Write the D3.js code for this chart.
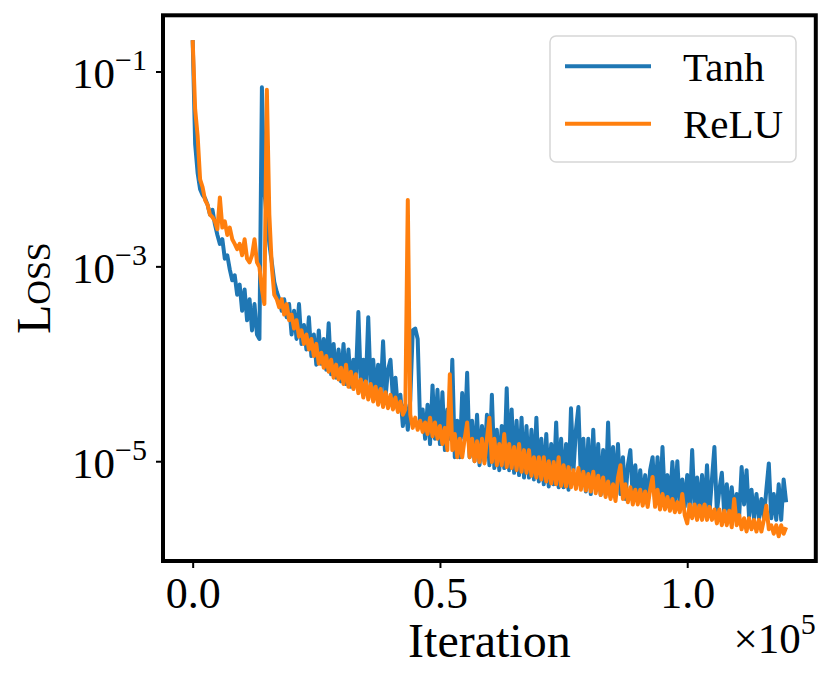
<!DOCTYPE html>
<html>
<head>
<meta charset="utf-8">
<script src="https://cdn.jsdelivr.net/npm/d3@7"></script>
<style>
  html, body { margin: 0; padding: 0; background: #ffffff; }
  svg { display: block; }
  text { font-family: "Liberation Serif", "DejaVu Serif", serif; fill: #000; }
</style>
</head>
<body>
<svg id="chart" width="831" height="683"></svg>
<script>
// ---- data ----
const seriesNames = ["Tanh", "ReLU"];
const seriesColors = ["#1f77b4", "#ff7f0e"];
const iterationStep = 500;
const iterationMax = 120000;

const tanhLoss = [
  2.1e-1, 1.8e-2, 9.1e-3, 6.2e-3, 5.4e-3, 5.0e-3, 4.3e-3, 3.4e-3, 3.8e-3, 2.7e-3,
  2.1e-3, 1.7e-3, 1.9e-3, 1.2e-3, 1.3e-3, 9.3e-4, 7.2e-4, 8.1e-4, 5.1e-4, 6.5e-4,
  3.5e-4, 5.8e-4, 2.8e-4, 4.6e-4, 2.2e-4, 4.1e-4, 2.0e-4, 1.8e-4, 6.9e-2, 6.0e-3,
  3.0e-3, 1.7e-3, 1.1e-3, 6.9e-4, 5.5e-4, 4.6e-4, 3.5e-4, 4.6e-4, 3.0e-4, 4.1e-4,
  2.0e-4, 3.5e-4, 1.8e-4, 4.1e-4, 1.6e-4, 2.5e-4, 1.4e-4, 3.0e-4, 1.2e-4, 2.0e-4,
  9.8e-5, 2.2e-4, 1.0e-4, 1.8e-4, 8.7e-5, 2.6e-4, 7.8e-5, 1.6e-4, 7.2e-5, 1.4e-4,
  6.6e-5, 1.6e-4, 6.2e-5, 1.4e-4, 5.8e-5, 1.1e-4, 6.9e-5, 3.4e-4, 6.2e-5, 1.1e-4,
  5.8e-5, 3.0e-4, 5.5e-5, 1.1e-4, 5.0e-5, 9.8e-5, 4.8e-5, 1.7e-4, 4.5e-5, 8.7e-5,
  1.1e-4, 4.3e-5, 7.2e-5, 3.4e-5, 4.8e-5, 2.3e-5, 3.8e-5, 2.1e-5, 4.3e-5, 2.2e-4,
  2.3e-4, 1.8e-4, 2.3e-5, 3.4e-5, 1.7e-5, 3.8e-5, 1.5e-5, 6.0e-5, 1.7e-5, 5.4e-5,
  1.5e-5, 5.1e-5, 1.3e-5, 3.4e-5, 1.7e-5, 1.1e-4, 1.1e-5, 2.6e-5, 1.1e-5, 5.0e-5,
  1.7e-5, 8.1e-5, 1.1e-5, 2.6e-5, 1.0e-5, 3.0e-5, 9.1e-6, 2.3e-5, 1.0e-5, 3.0e-5,
  9.1e-6, 4.8e-5, 8.5e-6, 2.1e-5, 8.1e-6, 2.3e-5, 8.5e-6, 5.6e-5, 8.1e-6, 3.4e-5,
  7.6e-6, 2.6e-5, 7.2e-6, 2.8e-5, 6.8e-6, 2.3e-5, 6.8e-6, 2.1e-5, 6.5e-6, 2.8e-5,
  6.2e-6, 1.7e-5, 5.8e-6, 1.9e-5, 5.5e-6, 1.5e-5, 5.8e-6, 2.5e-5, 5.4e-6, 1.7e-5,
  5.4e-6, 1.5e-5, 5.1e-6, 3.5e-5, 8.1e-6, 2.1e-5, 3.6e-5, 6.5e-6, 1.7e-5, 4.9e-6,
  1.7e-5, 4.6e-6, 2.1e-5, 5.1e-6, 1.5e-5, 4.5e-6, 1.3e-5, 4.6e-6, 2.5e-5, 4.3e-6,
  1.4e-5, 5.1e-6, 1.5e-5, 4.6e-6, 1.1e-5, 4.1e-6, 9.1e-6, 1.3e-5, 4.1e-6, 9.1e-6,
  4.1e-6, 8.1e-6, 3.8e-6, 7.2e-6, 3.6e-6, 8.1e-6, 1.1e-5, 3.8e-6, 1.1e-5, 3.6e-6,
  1.4e-5, 3.6e-6, 7.2e-6, 3.5e-6, 9.8e-6, 3.6e-6, 1.0e-5, 3.4e-6, 6.5e-6, 3.4e-6,
  7.2e-6, 3.2e-6, 1.3e-5, 3.2e-6, 6.8e-6, 3.1e-6, 7.2e-6, 3.1e-6, 9.1e-6, 3.0e-6,
  6.5e-6, 1.4e-5, 3.0e-6, 5.1e-6, 7.6e-6, 2.8e-6, 5.8e-6, 2.8e-6, 5.4e-6, 2.8e-6,
  4.6e-6, 2.7e-6, 8.7e-6, 3.6e-6, 8.1e-6, 2.7e-6, 5.1e-6, 2.6e-6, 4.6e-6, 2.6e-6,
  4.1e-6, 2.6e-6, 5.1e-6, 9.5e-6, 2.6e-6, 4.6e-6, 2.5e-6, 5.8e-6, 2.5e-6, 6.5e-6,
  3.8e-6
];

const reluLoss = [
  2.1e-1, 4.1e-2, 2.2e-2, 7.8e-3, 6.5e-3, 4.8e-3, 4.3e-3, 3.4e-3, 3.2e-3, 2.9e-3,
  2.4e-3, 5.1e-3, 2.5e-3, 2.9e-3, 2.1e-3, 2.5e-3, 1.9e-3, 1.7e-3, 1.5e-3, 1.7e-3,
  1.3e-3, 1.9e-3, 1.2e-3, 1.1e-3, 1.3e-3, 1.9e-3, 1.1e-3, 9.8e-4, 5.8e-4, 4.1e-4,
  6.5e-2, 3.4e-3, 1.0e-3, 5.1e-4, 4.6e-4, 3.8e-4, 4.6e-4, 3.2e-4, 4.1e-4, 2.8e-4,
  3.2e-4, 2.3e-4, 2.8e-4, 1.9e-4, 2.2e-4, 1.6e-4, 2.0e-4, 1.4e-4, 1.8e-4, 1.2e-4,
  1.6e-4, 1.0e-4, 1.3e-4, 9.1e-5, 1.2e-4, 8.3e-5, 1.1e-4, 7.2e-5, 9.8e-5, 6.9e-5,
  9.1e-5, 6.2e-5, 9.8e-5, 5.8e-5, 8.3e-5, 5.5e-5, 7.8e-5, 5.0e-5, 6.9e-5, 4.5e-5,
  6.6e-5, 4.3e-5, 6.2e-5, 4.1e-5, 5.8e-5, 3.8e-5, 5.5e-5, 3.6e-5, 5.1e-5, 3.5e-5,
  4.8e-5, 3.4e-5, 4.5e-5, 3.2e-5, 4.1e-5, 3.0e-5, 3.4e-5, 4.8e-3, 3.0e-5, 2.2e-5,
  2.8e-5, 2.1e-5, 2.6e-5, 2.0e-5, 2.5e-5, 1.9e-5, 2.8e-5, 1.8e-5, 2.5e-5, 1.7e-5,
  2.3e-5, 1.5e-5, 2.2e-5, 1.3e-5, 7.8e-5, 1.3e-5, 1.9e-5, 1.1e-5, 1.7e-5, 1.1e-5,
  1.7e-5, 2.5e-5, 1.1e-5, 1.7e-5, 1.0e-5, 1.6e-5, 9.8e-6, 1.7e-5, 9.5e-6, 1.7e-5,
  2.8e-5, 9.8e-6, 1.7e-5, 9.1e-6, 1.5e-5, 9.1e-6, 1.9e-5, 8.7e-6, 1.5e-5, 8.5e-6,
  1.4e-5, 8.1e-6, 1.5e-5, 7.8e-6, 1.3e-5, 7.6e-6, 1.3e-5, 7.1e-6, 1.1e-5, 6.8e-6,
  1.1e-5, 6.5e-6, 1.1e-5, 6.2e-6, 1.0e-5, 5.9e-6, 9.8e-6, 5.8e-6, 1.1e-5, 5.6e-6,
  9.1e-6, 5.5e-6, 8.7e-6, 5.4e-6, 8.1e-6, 5.2e-6, 8.5e-6, 5.1e-6, 7.8e-6, 5.0e-6,
  7.4e-6, 4.9e-6, 7.8e-6, 4.7e-6, 7.1e-6, 4.5e-6, 6.8e-6, 4.3e-6, 6.2e-6, 4.1e-6,
  5.8e-6, 3.9e-6, 6.8e-6, 9.1e-6, 4.1e-6, 5.8e-6, 3.8e-6, 5.4e-6, 3.6e-6, 5.1e-6,
  3.6e-6, 5.1e-6, 3.5e-6, 4.9e-6, 3.4e-6, 5.1e-6, 6.9e-6, 3.4e-6, 5.1e-6, 3.2e-6,
  4.6e-6, 3.2e-6, 4.3e-6, 3.1e-6, 4.1e-6, 3.0e-6, 3.8e-6, 3.0e-6, 4.6e-6, 2.8e-6,
  2.3e-6, 3.6e-6, 2.6e-6, 3.6e-6, 2.5e-6, 3.5e-6, 2.5e-6, 3.6e-6, 2.5e-6, 3.4e-6,
  2.5e-6, 3.2e-6, 2.3e-6, 3.2e-6, 2.2e-6, 3.1e-6, 2.2e-6, 3.1e-6, 2.1e-6, 4.1e-6,
  2.2e-6, 2.8e-6, 2.0e-6, 2.6e-6, 1.9e-6, 2.6e-6, 2.0e-6, 2.5e-6, 1.9e-6, 2.5e-6,
  1.9e-6, 2.5e-6, 3.5e-6, 2.0e-6, 2.2e-6, 1.8e-6, 2.2e-6, 1.7e-6, 2.2e-6, 1.8e-6,
  2.1e-6
];

const xTickValues = [0, 50000, 100000];
const xTickLabels = ["0.0", "0.5", "1.0"];
const yTickExponents = [-1, -3, -5];
const xLabel = "Iteration";
const yLabel = "Loss";
const xOffsetBase = "×10";
const xOffsetExp = "5";

// ---- layout ----
const W = 831, H = 683;
const axL = 163, axR = 815.8, axT = 15.3, axB = 561;
const svg = d3.select("#chart");
svg.append("rect").attr("width", W).attr("height", H).attr("fill", "#fff");

const iterations = d3.range(0, iterationMax + 1, iterationStep);
const series = [tanhLoss, reluLoss];

// x scale with matplotlib-like 5% margins
const xPad = 0.05 * iterationMax;
const x = d3.scaleLinear().domain([-xPad, iterationMax + xPad]).range([axL, axR]);

const allVals = tanhLoss.concat(reluLoss);
const lmin = Math.log10(d3.min(allVals)), lmax = Math.log10(d3.max(allVals));
const lpad = 0.05 * (lmax - lmin);
const y = d3.scaleLog().domain([Math.pow(10, lmin - lpad), Math.pow(10, lmax + lpad)]).range([axB, axT]);

// clip
svg.append("clipPath").attr("id", "clip")
  .append("rect").attr("x", axL).attr("y", axT).attr("width", axR - axL).attr("height", axB - axT);

// lines
const line = d3.line().x((d, i) => x(iterations[i])).y(d => y(d));
const gLines = svg.append("g").attr("clip-path", "url(#clip)");
series.forEach((s, k) => {
  gLines.append("path")
    .datum(s)
    .attr("d", line)
    .attr("fill", "none")
    .attr("stroke", seriesColors[k])
    .attr("stroke-width", 4)
    .attr("stroke-linejoin", "round")
    .attr("stroke-linecap", "butt");
});

// axes ticks
const xAxis = d3.axisBottom(x).tickValues(xTickValues).tickSize(7).tickFormat("");
const gx = svg.append("g").attr("transform", `translate(0,${axB})`).call(xAxis);
gx.select(".domain").remove();
gx.selectAll(".tick line").attr("stroke", "#000").attr("stroke-width", 2);
gx.selectAll(".tick").append("text")
  .attr("y", 47)
  .attr("text-anchor", "middle")
  .attr("font-size", 44)
  .text((d, i) => xTickLabels[i]);

const yAxis = d3.axisLeft(y).tickValues(yTickExponents.map(e => Math.pow(10, e))).tickSize(7).tickFormat("");
const gy = svg.append("g").attr("transform", `translate(${axL},0)`).call(yAxis);
gy.select(".domain").remove();
gy.selectAll(".tick line").attr("stroke", "#000").attr("stroke-width", 2);
gy.selectAll(".tick").each(function(d, i) {
  const t = d3.select(this).append("text")
    .attr("x", -16)
    .attr("y", 16)
    .attr("text-anchor", "end")
    .attr("font-size", 43);
  t.append("tspan").text("10");
  t.append("tspan").attr("font-size", 30).attr("dy", -18).text("\u2212" + Math.abs(yTickExponents[i]));
});

// spines
svg.append("rect")
  .attr("x", axL).attr("y", axT).attr("width", axR - axL).attr("height", axB - axT)
  .attr("fill", "none").attr("stroke", "#000").attr("stroke-width", 4);

// axis labels
svg.append("text")
  .attr("x", (axL + axR) / 2).attr("y", 657)
  .attr("text-anchor", "middle").attr("font-size", 48)
  .text(xLabel);

svg.append("text")
  .attr("transform", `translate(50,${(axT + axB) / 2}) rotate(-90)`)
  .attr("text-anchor", "middle").attr("font-size", 48)
  .style("font-variant", "small-caps")
  .text(yLabel);

// offset text
const off = svg.append("text")
  .attr("x", axR).attr("y", 653)
  .attr("text-anchor", "end").attr("font-size", 43);
off.append("tspan").text(xOffsetBase);
off.append("tspan").attr("font-size", 30).attr("dy", -19).text(xOffsetExp);

// legend
const lg = svg.append("g");
lg.append("rect")
  .attr("x", 550).attr("y", 36).attr("width", 246).attr("height", 126)
  .attr("rx", 6).attr("ry", 6)
  .attr("fill", "#fff").attr("fill-opacity", 0.8)
  .attr("stroke", "#d6d6d6").attr("stroke-width", 1.5);
seriesNames.forEach((name, k) => {
  const yy = 66.3 + k * 57.4;
  lg.append("line")
    .attr("x1", 565).attr("x2", 651).attr("y1", yy).attr("y2", yy)
    .attr("stroke", seriesColors[k]).attr("stroke-width", 4);
  lg.append("text")
    .attr("x", 683).attr("y", yy + 14.5)
    .attr("font-size", 41)
    .text(name);
});
</script>
</body>
</html>
